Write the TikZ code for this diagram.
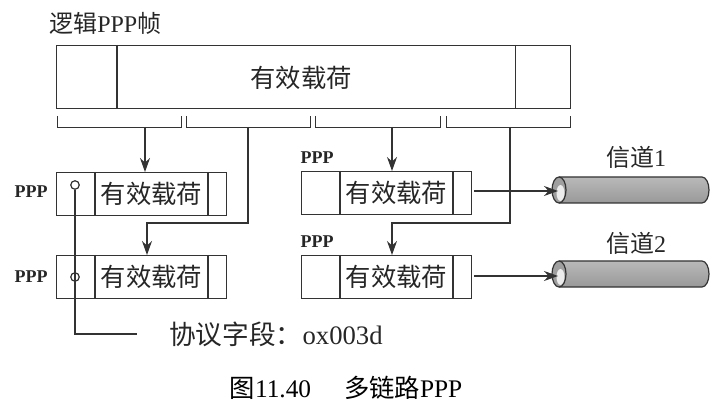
\documentclass[tikz,border=0pt]{standalone}
\usepackage{fontspec}
\setmainfont{Liberation Serif}
\newfontfamily\cjk{Noto Sans CJK SC}
\usetikzlibrary{arrows.meta,calc}
\begin{document}
\begin{tikzpicture}[x=0.75pt,y=0.75pt,
  ln/.style={draw=black!80, line width=0.9pt},
  arr/.style={ln, -{Stealth[length=10.5pt,width=7.5pt]}},
  framebox/.style={ln, minimum width=514*0.75pt, minimum height=63*0.75pt, inner sep=0pt, anchor=north west},
  pbox/.style={ln, minimum width=170*0.75pt, minimum height=43*0.75pt, inner sep=0pt, anchor=north west},
  pay/.style={font=\cjk\fontsize{19}{19}\selectfont, text=black!85, inner sep=0pt},
  ppp/.style={font=\bfseries\fontsize{13.5}{13.5}\selectfont, text=black!85, inner sep=0pt},
  lbl/.style={font=\fontsize{18}{18}\selectfont, text=black!85, inner sep=0pt},
  dot/.style={circle, ln, fill=white, minimum size=8.5*0.75pt, inner sep=0pt},
  channel/.pic={
    \shade[top color=gray!55, middle color=gray!25, bottom color=gray!80]
      (0,13) -- (143,13) arc[start angle=90,end angle=-90,x radius=7,y radius=13]
      -- (0,-13) arc[start angle=270,end angle=90,x radius=7,y radius=13] -- cycle;
    \draw[ln] (0,13) -- (143,13) arc[start angle=90,end angle=-90,x radius=7,y radius=13]
      -- (0,-13);
    \fill[gray!75] (0,0) ellipse[x radius=7,y radius=13];
    \fill[gray!15] (1.5,-3) ellipse[x radius=4,y radius=8];
    \draw[ln] (0,0) ellipse[x radius=7,y radius=13];
  }]
\useasboundingbox (0,0) rectangle (717,-413);

% title
\node[lbl, anchor=west] (title) at (49,-23) {{\cjk 逻辑}PPP{\cjk 帧}};

% logical frame
\node[framebox] (F) at (56,-45) {};
\draw[ln] ($(F.north west)+(61,0)$) -- ($(F.south west)+(61,0)$);
\draw[ln] ($(F.north east)+(-56,0)$) -- ($(F.south east)+(-56,0)$);
\node[pay] (Ft) at (301,-78) {有效载荷};

% braces
\draw[ln, line width=0.7pt] (57,-116) |- (181,-127) -- (181,-116);
\draw[ln, line width=0.7pt] (186,-116) |- (310,-127) -- (310,-116);
\draw[ln, line width=0.7pt] (315,-116) |- (440,-127) -- (440,-116);
\draw[ln, line width=0.7pt] (446,-116) |- (570,-127) -- (570,-116);
\coordinate (b1) at (145,-127);
\coordinate (b2) at (248,-127);
\coordinate (b3) at (392,-127);
\coordinate (b4) at (510,-127);

% PPP boxes
\node[pbox] (B1) at (56,-172) {};
\node[pbox] (B2) at (301,-171) {};
\node[pbox] (B3) at (56,-255) {};
\node[pbox] (B4) at (301,-255) {};
\foreach \b in {B1,B2,B3,B4} {
  \draw[ln] ($(\b.north west)+(39,0)$) -- ($(\b.south west)+(39,0)$);
  \draw[ln] ($(\b.north west)+(152,0)$) -- ($(\b.south west)+(152,0)$);
  \node[pay] at ($(\b.west)+(95.5,0)$) {有效载荷};
}

% PPP labels
\node[ppp] (l1) at (31,-192) {PPP};
\node[ppp] (l3) at (31,-277) {PPP};
\node[ppp] (l2) at (317,-158) {PPP};
\node[ppp] (l4) at (317,-242) {PPP};

% distribution arrows
\coordinate (k2) at (147,-223);
\coordinate (k4) at (392,-223);
\draw[arr] (b1) -- (b1 |- B1.north);
\draw[arr] (b3) -- (b3 |- B2.north);
\draw[arr] (b2) |- (k2) -- (k2 |- B3.north);
\draw[arr] (b4) |- (k4) -- (k4 |- B4.north);

% channels
\pic at (559,-190) {channel};
\pic at (559,-274) {channel};
\coordinate (c1) at (558,-191);
\coordinate (c2) at (558,-276);
\node[lbl] (ch1) at (636,-157) {{\cjk 信道}1};
\node[lbl] (ch2) at (636,-243) {{\cjk 信道}2};
\draw[arr] (B2.east |- c1) ++(2,0) -- (c1);
\draw[arr] (B4.east |- c2) ++(2,0) -- (c2);

% protocol field
\node[dot] (p1) at (75,-185) {};
\node[font=\fontsize{20}{20}\selectfont, text=black!85, inner sep=0pt, anchor=west] (pt) at (169,-334) {{\cjk 协议字段：}ox003d};
\coordinate (q) at (137,-334);
\draw[ln] (p1.south) |- (q);
\node[dot] (p3) at (75,-277) {};
\draw[ln] (p3.north) -- (p3.south);

% caption
\node[font=\fontsize{19}{19}\selectfont, inner sep=0pt] (cap) at (346,-388) {{\cjk 图}11.40\hspace{1.3em}{\cjk 多链路}PPP};
\end{tikzpicture}
\end{document}
